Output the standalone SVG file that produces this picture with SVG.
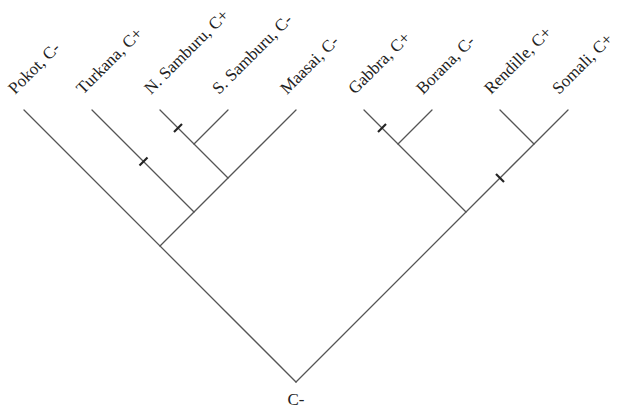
<svg xmlns="http://www.w3.org/2000/svg" width="628" height="410" viewBox="0 0 628 410">
<style>
.br{stroke:#555;stroke-width:1.3;fill:none;stroke-linecap:round}
.tk{stroke:#222;stroke-width:2.2;fill:none}
.lb{font-family:"Liberation Serif","Times New Roman",serif;font-size:17px;fill:#222}
</style>
<rect width="628" height="410" fill="#fff"/>
<g id="connectors">
<line class="br" x1="24" y1="110" x2="296" y2="382"/>
<line class="br" x1="92" y1="110" x2="194" y2="212"/>
<line class="br" x1="160" y1="110" x2="228" y2="178"/>
<line class="br" x1="228" y1="110" x2="194" y2="144"/>
<line class="br" x1="296" y1="110" x2="160" y2="246"/>
<line class="br" x1="364" y1="110" x2="466" y2="212"/>
<line class="br" x1="432" y1="110" x2="398" y2="144"/>
<line class="br" x1="500" y1="110" x2="534" y2="144"/>
<line class="br" x1="568" y1="110" x2="296" y2="382"/>
<line class="tk" x1="174" y1="132" x2="182" y2="124"/>
<line class="tk" x1="139.5" y1="165.5" x2="147.5" y2="157.5"/>
<line class="tk" x1="378" y1="132" x2="386" y2="124"/>
<line class="tk" x1="496" y1="174" x2="504" y2="182"/>
</g>
<g id="pokot" transform="translate(15,95) rotate(-45)"><text class="lb" x="0" y="0">Pokot, C-</text></g>
<g id="turkana" transform="translate(83,95) rotate(-45)"><text class="lb" x="0" y="0">Turkana, C+</text></g>
<g id="n-samburu" transform="translate(151,95) rotate(-45)"><text class="lb" x="0" y="0">N. Samburu, C+</text></g>
<g id="s-samburu" transform="translate(219,95) rotate(-45)"><text class="lb" x="0" y="0">S. Samburu, C-</text></g>
<g id="maasai" transform="translate(287,95) rotate(-45)"><text class="lb" x="0" y="0">Maasai, C-</text></g>
<g id="gabbra" transform="translate(355,95) rotate(-45)"><text class="lb" x="0" y="0">Gabbra, C+</text></g>
<g id="borana" transform="translate(423,95) rotate(-45)"><text class="lb" x="0" y="0">Borana, C-</text></g>
<g id="rendille" transform="translate(491,95) rotate(-45)"><text class="lb" x="0" y="0">Rendille, C+</text></g>
<g id="somali" transform="translate(559,95) rotate(-45)"><text class="lb" x="0" y="0">Somali, C+</text></g>
<g id="root"><text class="lb" x="296" y="405" text-anchor="middle">C-</text></g>
</svg>
